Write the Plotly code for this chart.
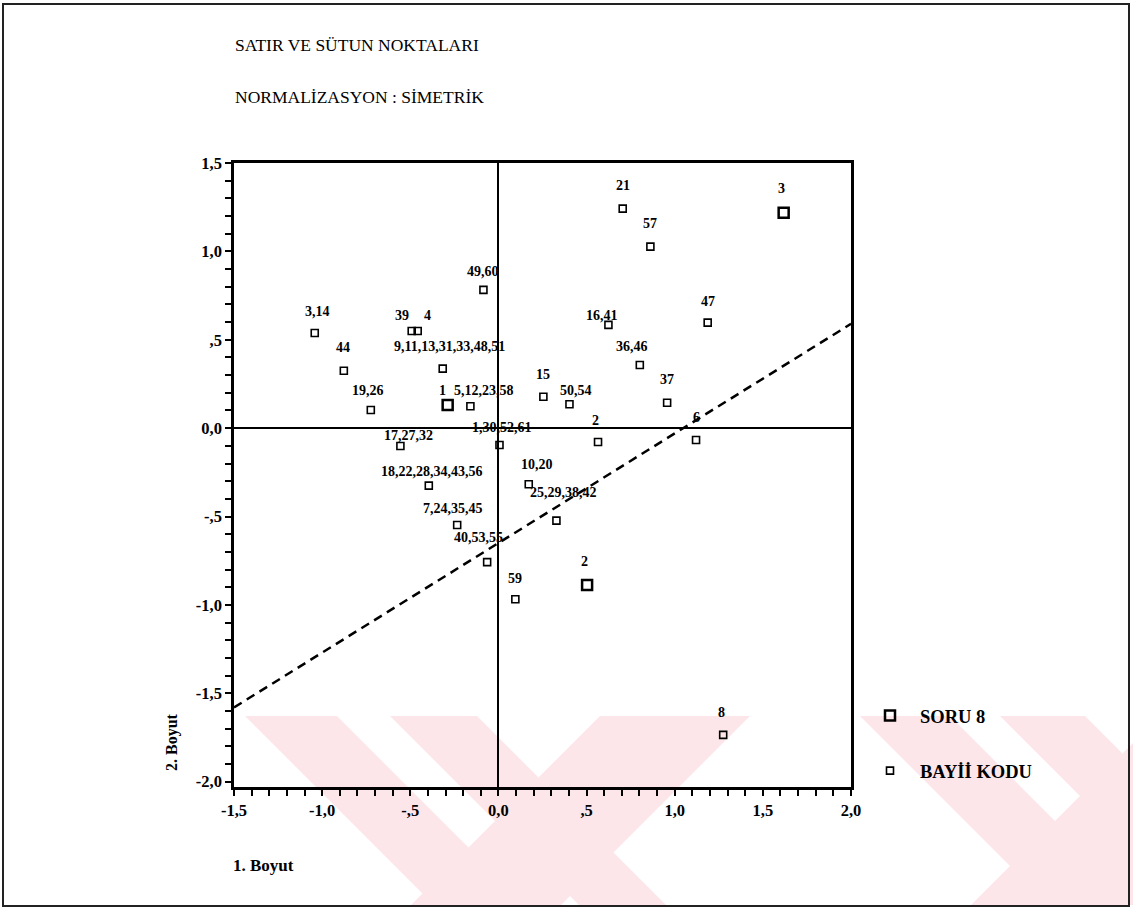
import plotly.graph_objects as go

# ---------------- data ----------------
soru_labels = ["1", "2", "3"]
soru_x = [-0.288, 0.503, 1.618]
soru_y = [0.131, -0.887, 1.219]

bayi_labels = ["3,14", "44", "19,26", "39", "4", "9,11,13,31,33,48,51",
               "5,12,23,58", "49,60", "15", "50,54", "16,41", "36,46", "21",
               "2", "17,27,32", "1,30,52,61", "18,22,28,34,43,56", "10,20",
               "25,29,38,42", "7,24,35,45", "40,53,55", "59", "57", "47",
               "37", "6", "8"]
bayi_x = [-1.042, -0.877, -0.724, -0.492, -0.458, -0.316, -0.159, -0.085,
          0.255, 0.403, 0.624, 0.802, 0.705, 0.565, -0.556, 0.006, -0.395,
          0.172, 0.329, -0.234, -0.064, 0.096, 0.862, 1.187, 0.957, 1.121,
          1.275]
bayi_y = [0.538, 0.325, 0.103, 0.550, 0.550, 0.337, 0.124, 0.782, 0.178,
          0.135, 0.584, 0.357, 1.242, -0.078, -0.101, -0.095, -0.325, -0.317,
          -0.523, -0.548, -0.758, -0.968, 1.027, 0.597, 0.144, -0.067,
          -1.735]

line_x = [-1.5, 2.0]
line_y = [-1.58, 0.59]

x_tick_vals = [-1.5, -1.0, -0.5, 0.0, 0.5, 1.0, 1.5, 2.0]
x_tick_text = ["-1,5", "-1,0", "-,5", "0,0", ",5", "1,0", "1,5", "2,0"]
y_tick_vals = [-2.0, -1.5, -1.0, -0.5, 0.0, 0.5, 1.0, 1.5]
y_tick_text = ["-2,0", "-1,5", "-1,0", "-,5", "0,0", ",5", "1,0", "1,5"]

title1 = "SATIR VE SÜTUN NOKTALARI"
title2 = "NORMALİZASYON : SİMETRİK"
x_title = "1. Boyut"
y_title = "2. Boyut"
name_soru = "SORU 8"
name_bayi = "BAYİİ KODU"

# ---------------- style / layout ----------------
SERIF = "Liberation Serif, Times New Roman, serif"
L, T, W, H = 234, 163, 617, 624
FIG_W, FIG_H = 1133, 913


def pxx(p):
    return (p - L) / W


def pxy(p):
    return (T + H - p) / H


# label offsets in pixels (dx, dy up)
soru_off = {"1": (-5, 15), "2": (-3, 23), "3": (-2, 24)}
bayi_off = {"3,14": (3, 22), "44": (-1, 23), "19,26": (-3, 19), "39": (-10, 15),
            "4": (10, 15), "9,11,13,31,33,48,51": (7, 22),
            "5,12,23,58": (14, 16), "49,60": (0, 18), "15": (0, 22),
            "50,54": (7, 14), "16,41": (-6, 9), "36,46": (-8, 19),
            "21": (0, 23), "2": (-3, 21), "17,27,32": (8, 11),
            "1,30,52,61": (3, 17), "18,22,28,34,43,56": (3, 14),
            "10,20": (8, 20), "25,29,38,42": (7, 28), "7,24,35,45": (-4, 17),
            "40,53,55": (-9, 25), "59": (0, 21), "57": (0, 23), "47": (0, 21),
            "37": (0, 23), "6": (0, 23), "8": (-2, 22)}

fig = go.Figure()

fig.add_trace(go.Scatter(
    x=line_x, y=line_y, mode="lines", showlegend=False,
    line=dict(color="black", width=2.5, dash="9px,6px"), hoverinfo="skip"))

fig.add_trace(go.Scatter(
    x=soru_x, y=soru_y, mode="markers", name=name_soru, legendgroup="a",
    marker=dict(symbol="square-open", size=10, color="black",
                line=dict(width=2.5, color="black"))))

fig.add_trace(go.Scatter(
    x=bayi_x, y=bayi_y, mode="markers", name=name_bayi, legendgroup="b",
    marker=dict(symbol="square-open", size=7, color="black",
                line=dict(width=1.6, color="black"))))

annotations = []
lab_font = dict(family=SERIF, size=14, color="black", weight="bold")
for lab, xv, yv in zip(soru_labels, soru_x, soru_y):
    dx, dy = soru_off.get(lab, (0, 21))
    annotations.append(dict(x=xv, y=yv, xref="x", yref="y", text=lab,
                            showarrow=False, xshift=dx, yshift=dy,
                            font=lab_font))
for lab, xv, yv in zip(bayi_labels, bayi_x, bayi_y):
    dx, dy = bayi_off.get(lab, (0, 21))
    annotations.append(dict(x=xv, y=yv, xref="x", yref="y", text=lab,
                            showarrow=False, xshift=dx, yshift=dy,
                            font=lab_font))

annotations += [
    dict(x=pxx(233), y=pxy(45), xref="paper", yref="paper", text=title1,
         showarrow=False, xanchor="left", yanchor="middle",
         font=dict(family=SERIF, size=17.5, color="black")),
    dict(x=pxx(233), y=pxy(97), xref="paper", yref="paper", text=title2,
         showarrow=False, xanchor="left", yanchor="middle",
         font=dict(family=SERIF, size=17.5, color="black")),
    dict(x=pxx(231), y=pxy(865), xref="paper", yref="paper", text=x_title,
         showarrow=False, xanchor="left", yanchor="middle",
         font=dict(family=SERIF, size=17, color="black", weight="bold")),
    dict(x=pxx(172), y=pxy(742), xref="paper", yref="paper", text=y_title,
         showarrow=False, xanchor="center", yanchor="middle", textangle=-90,
         font=dict(family=SERIF, size=16, color="black", weight="bold")),
]

# watermark bands (scan background)
WM_Y0, WM_Y1 = 716, 905
bands = [(245, 337, 1), (390, 477, 1), (600, 750, -1),
         (860, 950, 1), (1000, 1085, 1), (1160, 1320, -1)]
shapes = []
hh = WM_Y1 - WM_Y0
for a, b, s in bands:
    pts = [(a, WM_Y0), (b, WM_Y0), (b + s * hh, WM_Y1), (a + s * hh, WM_Y1)]
    path = "M " + " L ".join(f"{pxx(px):.4f},{pxy(py):.4f}" for px, py in pts) + " Z"
    shapes.append(dict(type="path", xref="paper", yref="paper", path=path,
                       fillcolor="rgb(253,230,234)", line=dict(width=0),
                       layer="below"))

shapes.append(dict(type="rect", xref="paper", yref="paper",
                   x0=pxx(3), x1=pxx(1129), y0=pxy(906), y1=pxy(4),
                   line=dict(color="#222", width=2)))

axis_common = dict(showline=True, linewidth=2.5, linecolor="black",
                   mirror=True, ticks="outside", ticklen=6, tickwidth=2,
                   tickcolor="black", showgrid=False, zeroline=True,
                   zerolinewidth=2, zerolinecolor="black",
                   tickfont=dict(family=SERIF, size=16.5, color="black",
                                 weight="bold"))

fig.update_layout(
    width=FIG_W, height=FIG_H,
    margin=dict(l=L, r=FIG_W - L - W, t=T, b=FIG_H - T - H, autoexpand=False),
    paper_bgcolor="white", plot_bgcolor="rgba(0,0,0,0)",
    xaxis=dict(range=[-1.5, 2.0], tickmode="array", tickvals=x_tick_vals,
               ticktext=x_tick_text,
               minor=dict(tickmode="linear", tick0=0, dtick=0.1,
                          ticks="outside", ticklen=6, tickwidth=1.5,
                          tickcolor="black"),
               **axis_common),
    yaxis=dict(range=[-2.03, 1.5], tickmode="array", tickvals=y_tick_vals,
               ticktext=y_tick_text,
               minor=dict(tickmode="linear", tick0=0, dtick=0.1,
                          ticks="outside", ticklen=6, tickwidth=1.5,
                          tickcolor="black"),
               **axis_common),
    showlegend=True,
    legend=dict(x=pxx(860), y=pxy(697), xanchor="left", yanchor="top",
                bgcolor="rgba(0,0,0,0)", itemwidth=50, traceorder="grouped",
                tracegroupgap=28,
                font=dict(family=SERIF, size=18.5, color="black",
                          weight="bold")),
    annotations=annotations,
    shapes=shapes,
)

fig.write_html("out.html", config={"displayModeBar": False},
               post_script="document.body.style.margin='0px';")
